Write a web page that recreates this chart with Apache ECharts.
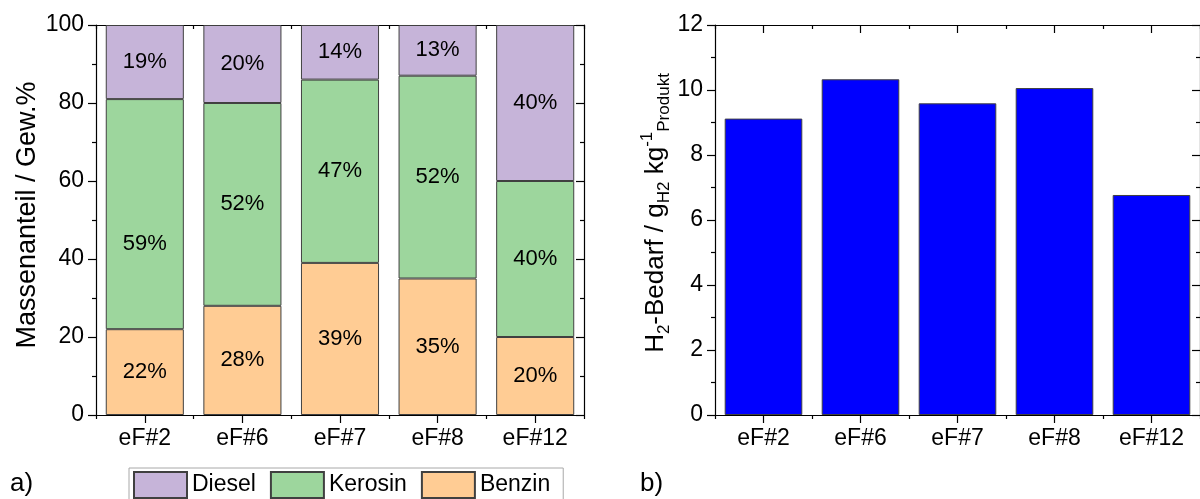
<!DOCTYPE html>
<html>
<head>
<meta charset="utf-8">
<script src="https://cdn.jsdelivr.net/npm/echarts@6/dist/echarts.min.js"></script>
<style>
html,body{margin:0;padding:0;background:#fff;}
#c{width:1200px;height:499px;}
</style>
</head>
<body>
<div id="c"></div>
<script>
var categories = ['eF#2', 'eF#6', 'eF#7', 'eF#8', 'eF#12'];
var dieselVals = [19, 20, 14, 13, 40];
var kerosinVals = [59, 52, 47, 52, 40];
var benzinVals = [22, 28, 39, 35, 20];
var h2Vals = [9.12, 10.33, 9.59, 10.06, 6.77];
var leftTicks = [0, 20, 40, 60, 80, 100];
var rightTicks = [0, 2, 4, 6, 8, 10, 12];

var FONT = "'Liberation Sans', Arial, sans-serif";
var BORDER = '#404040';

function xAxes(gridIndex) {
  var base = {type: 'category', data: categories, gridIndex: gridIndex, boundaryGap: true};
  return [
    Object.assign({}, base, {
      position: 'bottom',
      axisLine: {show: true, lineStyle: {color: '#000', width: 1.2}},
      axisTick: {show: true, alignWithLabel: true, length: 8, lineStyle: {color: '#000', width: 1.2}},
      axisLabel: {show: true, color: '#000', fontSize: 23, fontFamily: FONT, margin: 12},
      splitLine: {show: false}
    }),
    Object.assign({}, base, {
      position: 'bottom',
      axisLine: {show: false},
      axisTick: {show: true, length: 4, lineStyle: {color: '#000', width: 1.2}},
      axisLabel: {show: false},
      splitLine: {show: false}
    }),
    Object.assign({}, base, {
      position: 'top',
      axisLine: {show: true, lineStyle: {color: '#000', width: 1.2}},
      axisTick: {show: true, inside: true, alignWithLabel: true, length: 8, lineStyle: {color: '#000', width: 1.2}},
      axisLabel: {show: false},
      splitLine: {show: false}
    }),
    Object.assign({}, base, {
      position: 'top',
      axisLine: {show: false},
      axisTick: {show: true, inside: true, length: 4, lineStyle: {color: '#000', width: 1.2}},
      axisLabel: {show: false},
      splitLine: {show: false}
    })
  ];
}

function yAxes(gridIndex, ticks, name, nameGap, nameStyle) {
  var mn = ticks[0], mx = ticks[ticks.length - 1], iv = ticks[1] - ticks[0];
  return [
    {
      type: 'value', gridIndex: gridIndex, position: 'left', min: mn, max: mx, interval: iv,
      name: name, nameLocation: 'middle', nameGap: nameGap, nameTextStyle: nameStyle,
      axisLine: {show: true, lineStyle: {color: '#000', width: 1.2}},
      axisTick: {show: true, length: 8, lineStyle: {color: '#000', width: 1.2}},
      minorTick: {show: true, splitNumber: 2, length: 4, lineStyle: {color: '#000', width: 1.2}},
      axisLabel: {show: true, color: '#000', fontSize: 23, fontFamily: FONT, margin: 12},
      splitLine: {show: false}
    },
    {
      type: 'value', gridIndex: gridIndex, position: 'right', min: mn, max: mx, interval: iv,
      axisLine: {show: true, lineStyle: {color: '#000', width: 1.2}},
      axisTick: {show: true, inside: true, length: 8, lineStyle: {color: '#000', width: 1.2}},
      minorTick: {show: true, splitNumber: 2, length: 4, lineStyle: {color: '#000', width: 1.2}},
      axisLabel: {show: false},
      splitLine: {show: false}
    }
  ];
}

var pctLabel = {show: true, position: 'inside', formatter: '{c}%', color: '#000', fontSize: 22, fontFamily: FONT};

function stackSeries(name, vals, color) {
  return {
    name: name, type: 'bar', stack: 'mass', xAxisIndex: 0, yAxisIndex: 0,
    barWidth: '80%',
    itemStyle: {color: color, borderColor: BORDER, borderWidth: 1},
    label: pctLabel,
    data: vals
  };
}

var kerosinData = kerosinVals.map(function (v, i) {
  return i === 0 ? {value: v, label: {offset: [0, 30]}} : v;
});

var option = {
  animation: false,
  backgroundColor: '#fff',
  textStyle: {fontFamily: FONT},
  grid: [
    {left: 96, top: 25, width: 488, height: 390},
    {left: 715, top: 25, width: 487, height: 390}
  ],
  xAxis: xAxes(0).concat(xAxes(1)),
  yAxis: yAxes(0, leftTicks, 'Massenanteil / Gew.%', 55,
      {color: '#000', fontSize: 27, fontFamily: FONT, padding: [0, 0, 0, 10]})
    .concat(yAxes(1, rightTicks,
      '{n|H}{sub|2}{n|-Bedarf / g}{sub|H2}{n| kg}{sup|-1}{sub|Produkt}', 42,
      {color: '#000', fontFamily: FONT, padding: [0, 0, 0, 14], rich: {
        n: {fontSize: 26, fontFamily: FONT, color: '#000', lineHeight: 34, verticalAlign: 'middle'},
        sub: {fontSize: 17, fontFamily: FONT, color: '#000', lineHeight: 17, verticalAlign: 'bottom'},
        sup: {fontSize: 17, fontFamily: FONT, color: '#000', lineHeight: 17, verticalAlign: 'top'}
      }})),
  legend: {
    left: 129, top: 468,
    data: ['Diesel', 'Kerosin', 'Benzin'],
    icon: 'rect',
    itemWidth: 53, itemHeight: 26, itemGap: 14,
    padding: [3, 13, 10, 4],
    borderColor: '#a8a8a8', borderWidth: 1,
    textStyle: {color: '#000', fontSize: 23, fontFamily: FONT},
    selectedMode: false
  },
  graphic: [
    {type: 'text', left: 10, top: 471, style: {text: 'a)', fontSize: 26, fontFamily: FONT, fill: '#000'}},
    {type: 'text', left: 640, top: 471, style: {text: 'b)', fontSize: 26, fontFamily: FONT, fill: '#000'}}
  ],
  series: [
    stackSeries('Benzin', benzinVals, '#FFCC94'),
    Object.assign(stackSeries('Kerosin', kerosinVals, '#9DD69D'), {data: kerosinData}),
    stackSeries('Diesel', dieselVals, '#C6B4D9'),
    {
      name: 'H2', type: 'bar', xAxisIndex: 4, yAxisIndex: 2,
      barWidth: '80%',
      itemStyle: {color: '#0000FF', borderColor: BORDER, borderWidth: 1},
      data: h2Vals
    }
  ]
};

var chart = echarts.init(document.getElementById('c'), null, {renderer: 'canvas'});
chart.setOption(option);
</script>
</body>
</html>
